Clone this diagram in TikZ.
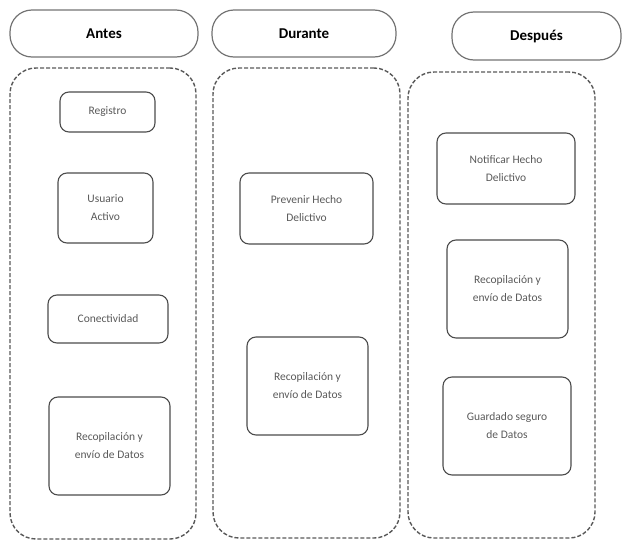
\documentclass[tikz,border=0pt]{standalone}
\usepackage{fontspec}
\setmainfont{Carlito}
\begin{document}
\begin{tikzpicture}[x=1pt,y=-1pt,
  header/.style={draw=black!55, line width=1.2pt, rounded corners=22pt, inner sep=0pt,
    font=\fontsize{15}{18}\selectfont\bfseries, text=black},
  group/.style={draw=black!65, line width=1.4pt, dash pattern=on 4pt off 2pt, rounded corners=26pt, inner sep=0pt},
  stepbox/.style={draw=black!70, line width=1.1pt, rounded corners=9pt, inner sep=0pt,
    align=center, font=\fontsize{11.5}{18}\selectfont, text=black!65}
]
\useasboundingbox (0,0) rectangle (632,541);
% headers
\node[header, minimum width=188pt, minimum height=47pt] (h1) at (104,33.5) {Antes};
\node[header, minimum width=184pt, minimum height=47pt] (h2) at (304,33.5) {Durante};
\node[header, minimum width=169pt, minimum height=48pt] (h3) at (536.5,36) {Después};
% groups
\node[group, minimum width=186pt, minimum height=471pt] (g1) at (103,303.5) {};
\node[group, minimum width=187pt, minimum height=470pt] (g2) at (306.5,303) {};
\node[group, minimum width=187pt, minimum height=466pt] (g3) at (501.5,305) {};
% Antes
\node[stepbox, minimum width=95pt, minimum height=40pt] (reg) at (107.5,112) {Registro};
\node[stepbox, minimum width=95pt, minimum height=70pt] (usu) at (105.5,208) {Usuario\\Activo};
\node[stepbox, minimum width=120pt, minimum height=48pt] (con) at (108,319) {Conectividad};
\node[stepbox, minimum width=121pt, minimum height=98pt] (rec1) at (109.5,446) {Recopilación y\\envío de Datos};
% Durante
\node[stepbox, minimum width=133pt, minimum height=71pt] (prev) at (306.5,208.5) {Prevenir Hecho\\Delictivo};
\node[stepbox, minimum width=121pt, minimum height=98pt] (rec2) at (307.5,386) {Recopilación y\\envío de Datos};
% Después
\node[stepbox, minimum width=138pt, minimum height=71pt] (notif) at (506,168.5) {Notificar Hecho\\Delictivo};
\node[stepbox, minimum width=121pt, minimum height=98pt] (rec3) at (507.5,289) {Recopilación y\\envío de Datos};
\node[stepbox, minimum width=128pt, minimum height=98pt] (gua) at (507,426) {Guardado seguro\\de Datos};
\end{tikzpicture}
\end{document}
